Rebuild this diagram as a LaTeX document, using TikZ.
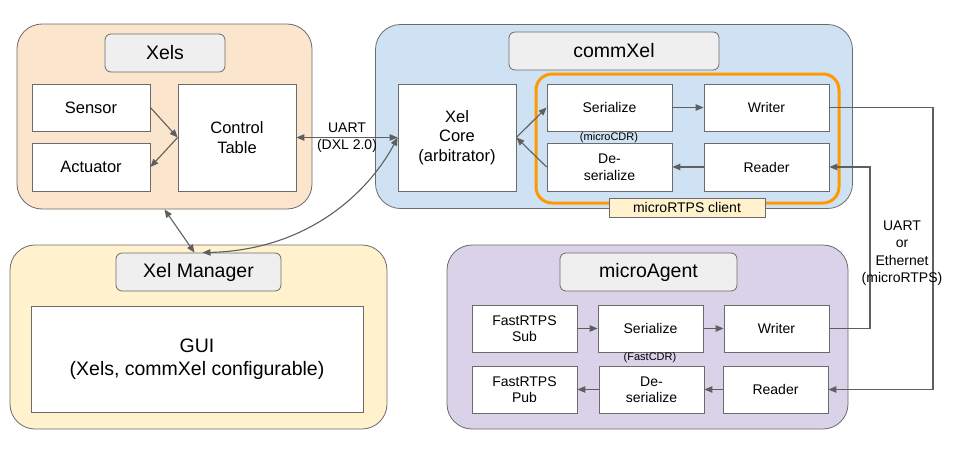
\documentclass[tikz,border=0pt]{standalone}
\usepackage{fontspec}
\setmainfont{Liberation Sans}
\usetikzlibrary{
arrows.meta,
positioning,
calc
}
\definecolor{xelsfill}{HTML}{FCE5CD}
\definecolor{commfill}{HTML}{CFE2F3}
\definecolor{managerfill}{HTML}{FFF2CC}
\definecolor{agentfill}{HTML}{D9D2E9}
\definecolor{titlefill}{HTML}{EFEFEF}
\definecolor{edgegray}{HTML}{6B6B6B}
\definecolor{linegray}{HTML}{5F5F5F}
\definecolor{clientorange}{HTML}{FF9900}
\tikzset{
size/.style 2 args={minimum width=#1, minimum height=#2}
}

\begin{document}
\begin{tikzpicture}
[x=1pt, y=-1pt,
group/.style ={rectangle, draw=edgegray, line width=0.8pt, rounded corners=25, inner sep=0},
block_title/.style ={rectangle, draw=edgegray, line width=0.8pt, fill=titlefill, rounded corners=6, inner sep=0, font=\fontsize{19.5}{22}\selectfont},
block_normal/.style ={rectangle, draw=edgegray, line width=0.8pt, fill=white, align=center, inner sep=0, font=\fontsize{14}{16.5}\selectfont},
block_big/.style ={block_normal, font=\fontsize{16.5}{19.5}\selectfont},
block_gui/.style ={block_normal, font=\fontsize{19.5}{23}\selectfont},
block_client/.style ={rectangle, draw=clientorange, line width=3pt, rounded corners=16, inner sep=0},
tag/.style ={inner sep=0, align=center, font=\fontsize{14}{17.5}\selectfont},
tag_small/.style ={inner sep=0, font=\fontsize{11}{13}\selectfont},
line_inner/.style ={draw=linegray, line width=1.1pt, -{Triangle[length=8pt, width=6.5pt]}},
line_both/.style ={draw=linegray, line width=1.1pt, {Triangle[length=8pt, width=6.5pt]}-{Triangle[length=8pt, width=6.5pt]}}
]
\useasboundingbox (0,0) rectangle (954,451);

%%% Groups %%%
\node[group, fill=xelsfill, size={295}{185}] (xels) at (164.5,116.5) {};
\node[group, fill=commfill, size={477}{184}] (comm) at (614,116.5) {};
\node[group, fill=managerfill, size={377}{184}] (manager) at (198.5,337) {};
\node[group, fill=agentfill, size={401}{184}] (agent) at (647.5,337) {};

\node[block_title, size={120}{38}] (xels_title) at (165,53) {Xels};
\node[block_title, size={210}{38}] (comm_title) at (614,51) {commXel};
\node[block_title, size={165}{38}] (manager_title) at (198.5,272) {Xel Manager};
\node[block_title, size={177}{38}] (agent_title) at (648.5,272) {microAgent};

%%% Xels %%%
\node[block_big, size={118}{47}] (sensor) at (91,107.5) {Sensor};
\node[block_big, size={118}{48}] (actuator) at (91,167) {Actuator};
\node[block_big, size={118}{107}] (table) at (237,137.5) {Control\\Table};

%%% commXel %%%
\node[block_client, size={303}{129}] (client) at (687.5,138.5) {};
\node[block_big, size={118}{107}] (core) at (457,137.5) {Xel\\Core\\(arbitrator)};
\node[block_normal, size={125}{47}] (ser) at (609.5,107.5) {Serialize};
\node[block_normal, size={125}{47}] (writer) at (766.5,107.5) {Writer};
\node[block_normal, size={125}{48}] (deser) at (609.5,167) {De-\\serialize};
\node[block_normal, size={125}{48}] (reader) at (766.5,167) {Reader};
\node[tag_small] (microcdr) at (609,138) {(microCDR)};
\node[rectangle, draw=edgegray, line width=0.8pt, fill=managerfill, inner sep=0, size={156}{19}, font=\fontsize{14}{17}\selectfont] (client_title) at (687,207.5) {microRTPS client};

%%% Xel Manager %%%
\node[block_gui, size={332}{106}] (gui) at (197,359) {GUI\\(Xels, commXel configurable)};

%%% microAgent %%%
\node[block_normal, size={105}{47}] (sub) at (524.5,328.5) {FastRTPS\\Sub};
\node[block_normal, size={105}{47}] (aser) at (650.5,328.5) {Serialize};
\node[block_normal, size={105}{47}] (awriter) at (776.5,328.5) {Writer};
\node[block_normal, size={105}{47}] (pub) at (524.5,389.5) {FastRTPS\\Pub};
\node[block_normal, size={105}{47}] (adeser) at (651.5,389.5) {De-\\serialize};
\node[block_normal, size={105}{47}] (areader) at (775.5,389.5) {Reader};
\node[tag_small] (fastcdr) at (650,358) {(FastCDR)};

%%% Pfeile %%%
\draw[line_inner] (sensor.east) to (table.west);
\draw[line_inner] (table.west) to (actuator.east);
\draw[line_both] (table.east) to node[tag, midway]{UART\\(DXL 2.0)} (core.west);
\draw[line_both] (xels.south) to ([xshift=-4]manager_title.north);
\draw[line_both] ([xshift=4]manager_title.north) .. controls (310,250) and (370,190) .. (core.west);

\draw[line_inner] (core.east) to (ser.west);
\draw[line_inner] (deser.west) to (core.east);
\draw[line_inner] (ser) to (writer);
\draw[line_inner] (reader) to (deser);

\draw[line_inner] (sub) to (aser);
\draw[line_inner] (aser) to (awriter);
\draw[line_inner] (areader) to (adeser);
\draw[line_inner] (adeser) to (pub);

\coordinate (bus_out) at (933,0);
\coordinate (bus_in) at (870,0);
\draw[line_inner] (writer.east) -- (writer.east -| bus_out) |- (areader.east);
\draw[line_inner] (awriter.east) -- (awriter.east -| bus_in) |- (reader.east);
\node[tag] (link) at (902,253) {UART\\or\\Ethernet\\(microRTPS)};

\end{tikzpicture}
\end{document}
